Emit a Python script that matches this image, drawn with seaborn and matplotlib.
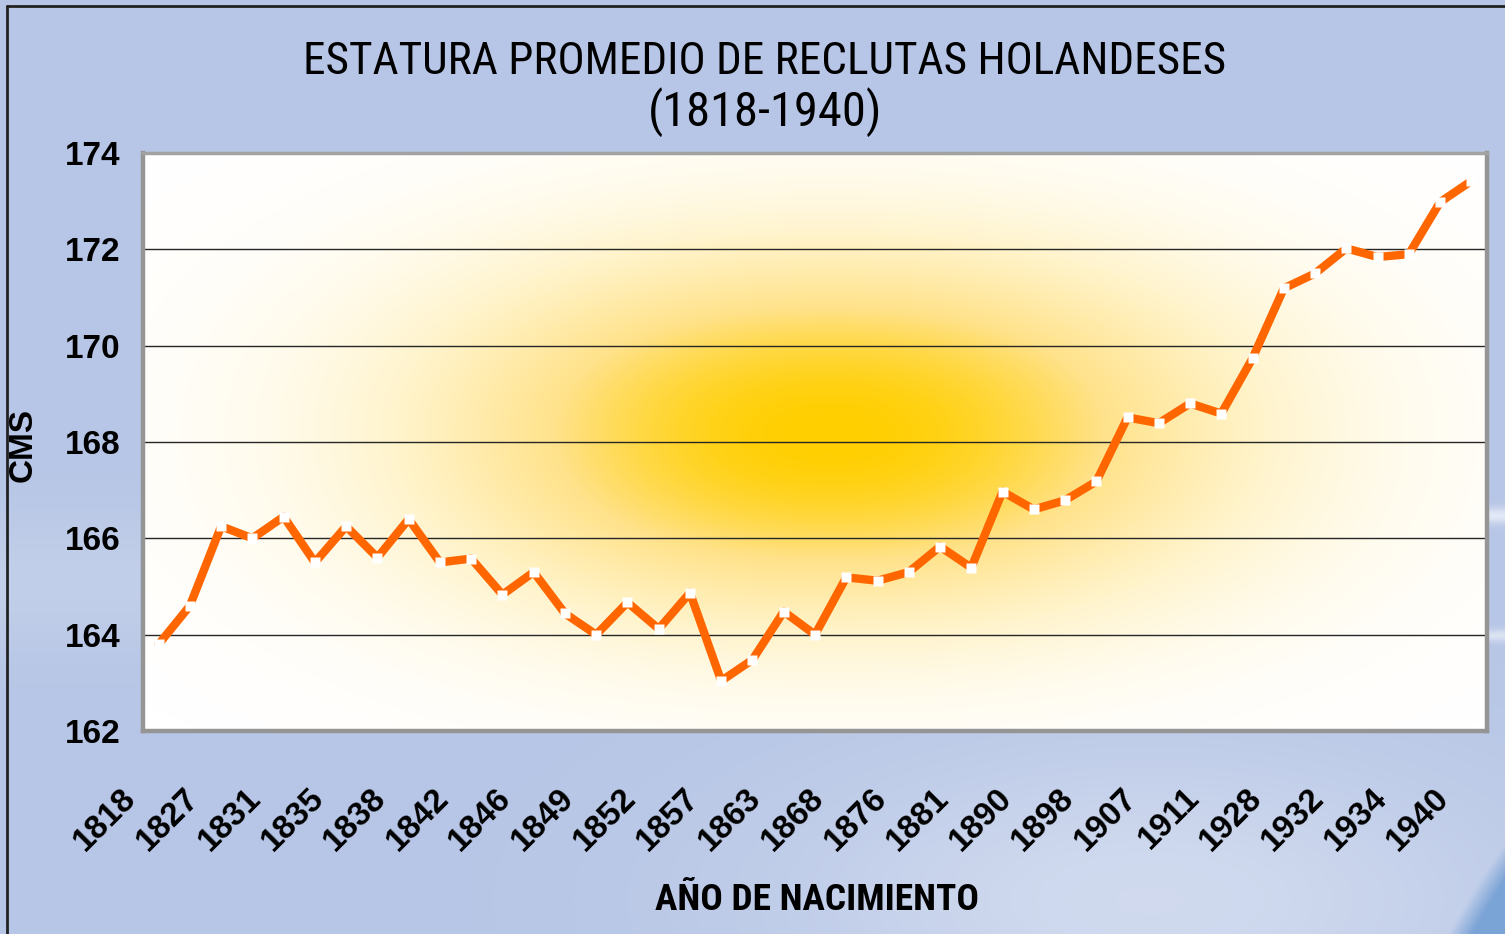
import numpy as np
import matplotlib
matplotlib.use("Agg")
import matplotlib.pyplot as plt
from matplotlib import font_manager
from matplotlib.colors import LinearSegmentedColormap
from matplotlib.lines import Line2D
from matplotlib.transforms import ScaledTranslation
import seaborn as sns

# average height (cm) of Dutch recruits, one value per category on the x axis
heights = [163.8, 164.6, 166.25, 166.0, 166.45, 165.5, 166.25, 165.6, 166.4, 165.5,
           165.58, 164.83, 165.3, 164.44, 164.0, 164.67, 164.12, 164.87, 163.04, 163.48,
           164.48, 164.0, 165.19, 165.12, 165.3, 165.83, 165.39, 166.97, 166.6, 166.79,
           167.18, 168.51, 168.39, 168.8, 168.59, 169.74, 171.19, 171.5, 172.02, 171.84,
           171.9, 172.98, 173.42]
# only every second category carries a year label
tick_labels = ["1818", "1827", "1831", "1835", "1838", "1842", "1846", "1849", "1852",
               "1857", "1863", "1868", "1876", "1881", "1890", "1898", "1907", "1911",
               "1928", "1932", "1934", "1940"]
y_ticks = [162, 164, 166, 168, 170, 172, 174]

title_1 = "ESTATURA PROMEDIO DE RECLUTAS HOLANDESES"
title_2 = "(1818-1940)"
x_title = "AÑO DE NACIMIENTO"
y_title = "CMS"

sns.set_style("white")
plt.rcParams['font.family'] = ['Liberation Sans', 'DejaVu Sans']
plt.rcParams['text.color'] = 'black'
plt.rcParams['axes.labelcolor'] = 'black'

names = {f.name for f in font_manager.fontManager.ttflist}
narrow = next((n for n in ['Liberation Sans Narrow', 'Roboto Condensed', 'Open Sans Condensed']
               if n in names), 'Liberation Sans')

W, H = 1505, 934
fig = plt.figure(figsize=(W / 100, H / 100), dpi=100)
fig.patch.set_facecolor('#b7c6e6')

# slide background
bg_ax = fig.add_axes([0, 0, 1, 1], zorder=-10)
yy, xx = np.mgrid[0:H, 0:W].astype(float)
base = np.array([183, 198, 230]) / 255.0
img = np.ones((H, W, 3)) * base
light = np.exp(-((xx - 1150) / 380) ** 2 - ((yy - 900) / 160) ** 2) * 0.35
light += np.exp(-((yy - 515) / 8) ** 2) * (xx > 1420) * 0.6
light += np.exp(-((yy - 635) / 6) ** 2) * (xx > 1420) * 0.5
light += np.exp(-((yy - 580) / 70) ** 2) * (xx < 140) * 0.15
img = img + (1 - img) * light[..., None]
edge = 1448 + (933 - yy) * 0.55 + ((933 - yy) / 100) ** 2 * 8
dark = np.clip((xx - edge) / 25, 0, 1)
wedge = np.array([122, 163, 214]) / 255.0
img = img * (1 - dark[..., None]) + wedge * dark[..., None]
bg_ax.imshow(np.clip(img, 0, 1), aspect='auto', extent=[0, 1, 0, 1])
bg_ax.axis('off')

# frame lines of the slide
fig.add_artist(Line2D([7 / W, 1], [1 - 6 / H, 1 - 6 / H], color='#222222', lw=2))
fig.add_artist(Line2D([7 / W, 7 / W], [0, 1 - 6 / H], color='#222222', lw=2))

ax = fig.add_axes([143 / W, 1 - 731 / H, 1344 / W, 578 / H])
positions = np.arange(len(heights))
ax.set_xlim(-0.5, len(heights) - 0.5)
ax.set_ylim(162, 174)

# yellow glow in the plot area
gy, gx = np.mgrid[0:300, 0:700].astype(float)
gx = gx / 699 * 1344 + 143
gy = gy / 299 * 578 + 153
glow = np.exp(-(np.abs(gx - 830) / 400) ** 2.2) * np.exp(-(np.abs(gy - 450) / 185) ** 2.2)
glow_cmap = LinearSegmentedColormap.from_list(
    'glow', [(0, '#ffffff'), (0.3, '#fff4cc'), (0.65, '#ffe28a'), (1, '#ffcf00')])
ax.imshow(glow, cmap=glow_cmap, vmin=0, vmax=1, aspect='auto',
          extent=[-0.5, len(heights) - 0.5, 174, 162], zorder=0, interpolation='bilinear')

ax.set_yticks(y_ticks)
for v in y_ticks[1:-1]:
    ax.axhline(v, color='#262626', lw=1.0, zorder=1)

sns.lineplot(x=positions, y=heights, ax=ax, color='#ff6600', lw=6, marker='s',
             markersize=7, markerfacecolor='white', markeredgecolor='none', zorder=3)

for side in ['left', 'bottom', 'right']:
    ax.spines[side].set_color('#959595')
    ax.spines[side].set_linewidth(3.2)
ax.spines['top'].set_color('#a2a2a2')
ax.spines['top'].set_linewidth(2.5)

ax.set_xticks(positions[::2])
ax.set_xticklabels(tick_labels, rotation=45, ha='right', va='top',
                   fontsize=24, fontweight='bold')
ax.set_xticks(np.arange(-0.5, len(heights), 1), minor=True)
ax.tick_params(axis='x', which='major', length=0, pad=37, labelcolor='black')
ax.tick_params(axis='x', which='minor', length=9, width=3, color='#959595', direction='out')
ax.tick_params(axis='y', length=6, width=3, color='#959595', direction='out', pad=10,
               labelsize=24, labelcolor='black')
for lab in ax.get_yticklabels():
    lab.set_fontweight('bold')
for lab in ax.get_xticklabels():
    lab.set_transform(lab.get_transform() + ScaledTranslation(-0.16, 0, fig.dpi_scale_trans))

ax.set_xlabel(x_title, fontsize=22, fontweight='bold', family=[narrow, 'DejaVu Sans'])
ax.xaxis.set_label_coords(0.5015, -0.262)
ax.set_ylabel(y_title, fontsize=24, fontweight='bold')
ax.yaxis.set_label_coords(-0.078, 0.495)

t1 = fig.text(765 / W, 1 - 62 / H, title_1, ha='center', va='center', fontsize=26,
              family=[narrow, 'DejaVu Sans'])
t2 = fig.text(765 / W, 1 - 112 / H, title_2, ha='center', va='center', fontsize=26,
              family=[narrow, 'DejaVu Sans'])

# scale the text so that it covers the same width as in the slide
renderer = fig.canvas.get_renderer()
for txt, target in [(t1, 922), (t2, 235), (ax.xaxis.label, 323)]:
    w = txt.get_window_extent(renderer).width
    txt.set_fontsize(txt.get_fontsize() * target / w)

fig.savefig('out.png', dpi=100)
